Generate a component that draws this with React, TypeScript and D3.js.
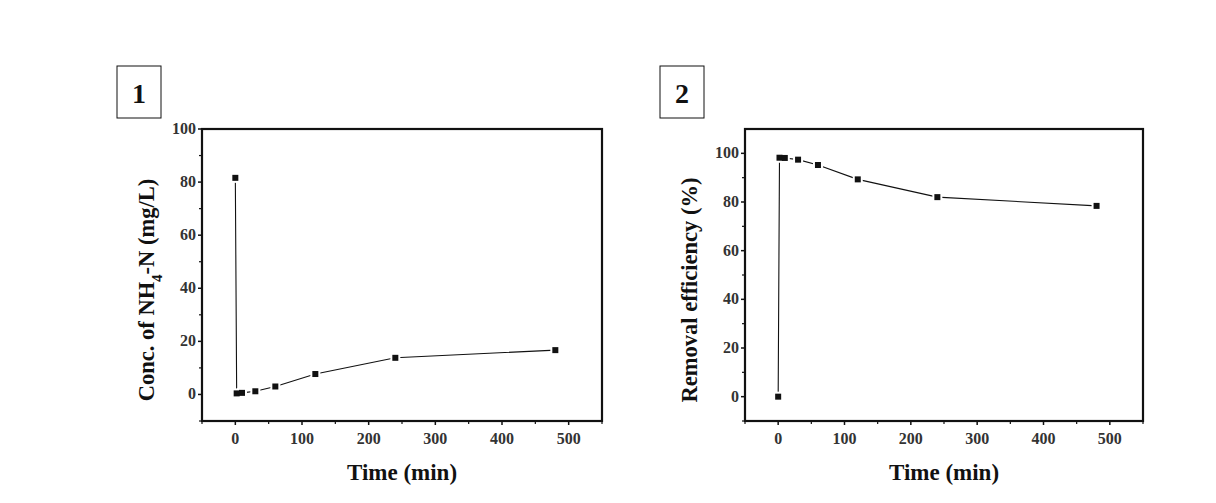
import React from 'react';
import * as d3 from 'd3';

// sampling times (min)
const times = [0, 2, 10, 30, 60, 120, 240, 480];
// panel 1: NH4-N concentration (mg/L)
const concValues = [81.6, 0.4, 0.6, 1.2, 3.0, 7.7, 13.8, 16.7];
// panel 2: removal efficiency (%)
const removalValues = [0, 98.2, 98.1, 97.4, 95.2, 89.3, 82.0, 78.4];

const xTicks = [0, 100, 200, 300, 400, 500];
const xMinor = [-50, 50, 150, 250, 350, 450, 550];
const concTicks = [0, 20, 40, 60, 80, 100];
const concMinor = [-10, 10, 30, 50, 70, 90];
const removalTicks = [0, 20, 40, 60, 80, 100];
const removalMinor = [-10, 10, 30, 50, 70, 90];

const FONT = '"Liberation Serif", "Times New Roman", serif';

interface PanelProps {
  label: string;
  left: number;
  right: number;
  top: number;
  bottom: number;
  yDomain: [number, number];
  values: number[];
  yTicks: number[];
  yMinor: number[];
  boxX: number;
  titleX: number;
  yTitle: React.ReactNode;
}

const Panel: React.FC<PanelProps> = (p) => {
  const x = d3.scaleLinear().domain([-50, 550]).range([p.left, p.right]);
  const y = d3.scaleLinear().domain(p.yDomain).range([p.bottom, p.top]);
  const pts = times.map((t, i) => [x(t), y(p.values[i])] as [number, number]);
  const line = d3.line()(pts) || '';
  const midX = (p.left + p.right) / 2;
  const midY = (p.top + p.bottom) / 2;

  return (
    <g>
      {/* panel number box */}
      <rect x={p.boxX} y={66} width={44} height={52} fill="white" stroke="#111" strokeWidth={1} />
      <text x={p.boxX + 22} y={103} textAnchor="middle" fontFamily={FONT} fontWeight="bold" fontSize={28} fill="#111">
        {p.label}
      </text>

      {/* ticks */}
      {xTicks.map((t) => (
        <g key={'xt' + t}>
          <line x1={x(t)} x2={x(t)} y1={p.bottom} y2={p.bottom + 4} stroke="#111" strokeWidth={1.5} />
          <text x={x(t)} y={p.bottom + 23} textAnchor="middle" fontFamily={FONT} fontWeight="bold" fontSize={16} fill="#333">
            {t}
          </text>
        </g>
      ))}
      {xMinor.map((t) => (
        <line key={'xm' + t} x1={x(t)} x2={x(t)} y1={p.bottom} y2={p.bottom + 3} stroke="#111" strokeWidth={1.2} />
      ))}
      {p.yTicks.map((v) => (
        <g key={'yt' + v}>
          <line x1={p.left - 4} x2={p.left} y1={y(v)} y2={y(v)} stroke="#111" strokeWidth={1.5} />
          <text x={p.left - 6} y={y(v) + 5} textAnchor="end" fontFamily={FONT} fontWeight="bold" fontSize={16} fill="#333">
            {v}
          </text>
        </g>
      ))}
      {p.yMinor.map((v) => (
        <line key={'ym' + v} x1={p.left - 3} x2={p.left} y1={y(v)} y2={y(v)} stroke="#111" strokeWidth={1.2} />
      ))}

      {/* data */}
      <path d={line} fill="none" stroke="#111" strokeWidth={1.1} />
      {pts.map(([px, py], i) => (
        <rect key={'mw' + i} x={px - 5} y={py - 5} width={10} height={10} fill="white" />
      ))}
      {pts.map(([px, py], i) => (
        <rect key={'m' + i} x={px - 3} y={py - 3} width={6} height={6} fill="#111" />
      ))}

      {/* frame */}
      <rect x={p.left} y={p.top} width={p.right - p.left} height={p.bottom - p.top} fill="none" stroke="#111" strokeWidth={2.2} />

      {/* titles */}
      <text x={midX} y={480} textAnchor="middle" fontFamily={FONT} fontWeight="bold" fontSize={23} fill="#111">
        Time (min)
      </text>
      <text
        transform={`translate(${p.titleX},${midY + 15}) rotate(-90)`}
        textAnchor="middle"
        fontFamily={FONT}
        fontWeight="bold"
        fontSize={22.5}
        fill="#111"
      >
        {p.yTitle}
      </text>
    </g>
  );
};

const App: React.FC = () => {
  return (
    <div style={{ position: 'absolute', left: 0, top: 0 }}>
      <svg width={1216} height={503} style={{ display: 'block', background: 'white' }}>
        <Panel
          label="1"
          left={202}
          right={602}
          top={129}
          bottom={421}
          yDomain={[-10, 100]}
          values={concValues}
          yTicks={concTicks}
          yMinor={concMinor}
          boxX={117}
          titleX={154}
          yTitle={
            <>
              Conc. of NH
              <tspan baselineShift="sub" fontSize={15}>4</tspan>
              -N (mg/L)
            </>
          }
        />
        <Panel
          label="2"
          left={745}
          right={1143}
          top={129}
          bottom={421}
          yDomain={[-10, 110]}
          values={removalValues}
          yTicks={removalTicks}
          yMinor={removalMinor}
          boxX={660}
          titleX={697}
          yTitle="Removal efficiency (%)"
        />
      </svg>
    </div>
  );
};

export default App;
